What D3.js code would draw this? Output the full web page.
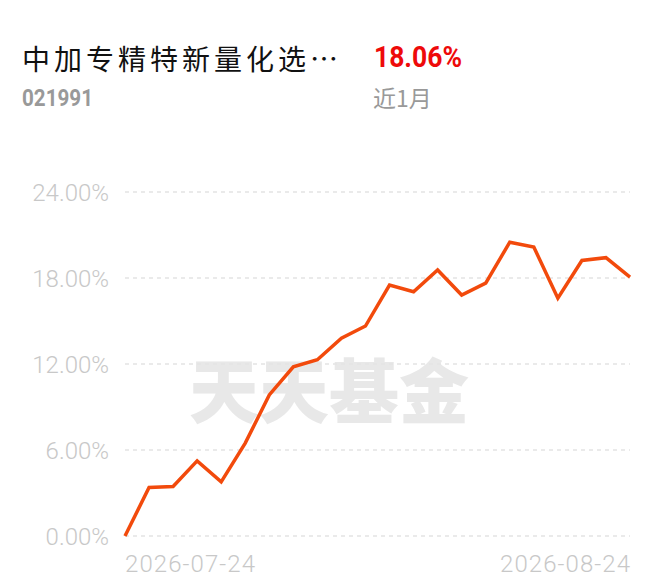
<!DOCTYPE html>
<html>
<head>
<meta charset="utf-8">
<script src="https://cdn.jsdelivr.net/npm/d3@7"></script>
<style>
  body { margin: 0; background: #fff; }
  svg { display: block; }
</style>
</head>
<body>
<div id="chart"></div>
<script>
// Fund info
const fundName = "中加专精特新量化选…";
const fundCode = "021991";
const periodReturn = "18.06%";
const periodLabel = "近1月";

// Cumulative return (%) per trading day
const returns = [0, 3.38, 3.45, 5.24, 3.78, 6.48, 9.84, 11.8, 12.3, 13.8, 14.65,
  17.51, 17.04, 18.56, 16.81, 17.64, 20.5, 20.16, 16.59, 19.22, 19.42, 18.06];
const yTicks = [0, 6, 12, 18, 24];
const xTickLabels = ["2026-07-24", "2026-08-24"];

const width = 660, height = 585;
const margin = {top: 192, right: 30, bottom: 49, left: 125};

const svg = d3.select("#chart").append("svg")
  .attr("width", width)
  .attr("height", height);

// Header
svg.append("text").attr("x", 22).attr("y", 70)
  .attr("font-family", "Noto Sans CJK SC").attr("font-size", 28)
  .attr("letter-spacing", 4)
  .attr("fill", "#111").text(fundName);
svg.append("text").attr("x", 22).attr("y", 106)
  .attr("font-family", "Roboto").attr("font-weight", 700).attr("font-size", 24)
  .attr("textLength", 71).attr("lengthAdjust", "spacingAndGlyphs")
  .attr("fill", "#999").text(fundCode);
svg.append("text").attr("x", 374).attr("y", 67)
  .attr("font-family", "Roboto").attr("font-weight", 700).attr("font-size", 30)
  .attr("textLength", 88).attr("lengthAdjust", "spacingAndGlyphs")
  .attr("fill", "#ee0a0a").text(periodReturn);
svg.append("text").attr("x", 373).attr("y", 107)
  .attr("font-family", "Noto Sans CJK SC").attr("font-size", 23)
  .attr("fill", "#999").text(periodLabel);

const x = d3.scaleLinear()
  .domain([0, returns.length - 1])
  .range([margin.left, width - margin.right]);
const y = d3.scaleLinear()
  .domain([0, 24])
  .range([height - margin.bottom, margin.top]);

// Watermark
svg.append("text").attr("x", 329).attr("y", 418)
  .attr("text-anchor", "middle")
  .attr("font-family", "Noto Sans CJK SC").attr("font-weight", 900).attr("font-size", 70)
  .attr("fill", "#e8e8e8").text("天天基金");

// Grid lines
svg.append("g").selectAll("line").data(yTicks).join("line")
  .attr("x1", margin.left).attr("x2", width - margin.right)
  .attr("y1", d => y(d)).attr("y2", d => y(d))
  .attr("stroke", "#e3e3e3").attr("stroke-width", 1.3)
  .attr("stroke-dasharray", "4,4");

// Y labels
svg.append("g").selectAll("text").data(yTicks).join("text")
  .attr("x", 109).attr("y", d => y(d) + 8.5)
  .attr("text-anchor", "end")
  .attr("font-family", "Roboto").attr("font-weight", 300).attr("font-size", 24)
  .attr("fill", "#c8c8c8")
  .text(d => d.toFixed(2) + "%");

// X labels
svg.append("text").attr("x", margin.left).attr("y", 572)
  .attr("font-family", "Roboto").attr("font-weight", 300).attr("font-size", 24)
  .attr("textLength", 130).attr("lengthAdjust", "spacing")
  .attr("fill", "#c8c8c8").text(xTickLabels[0]);
svg.append("text").attr("x", width - margin.right - 130).attr("y", 572)
  .attr("font-family", "Roboto").attr("font-weight", 300).attr("font-size", 24)
  .attr("textLength", 130).attr("lengthAdjust", "spacing")
  .attr("fill", "#c8c8c8").text(xTickLabels[1]);

// Line
const line = d3.line()
  .x((d, i) => x(i))
  .y(d => y(d));

svg.append("path")
  .datum(returns)
  .attr("d", line)
  .attr("fill", "none")
  .attr("stroke", "#f24a0c")
  .attr("stroke-width", 3.5)
  .attr("stroke-linejoin", "miter");
</script>
</body>
</html>
